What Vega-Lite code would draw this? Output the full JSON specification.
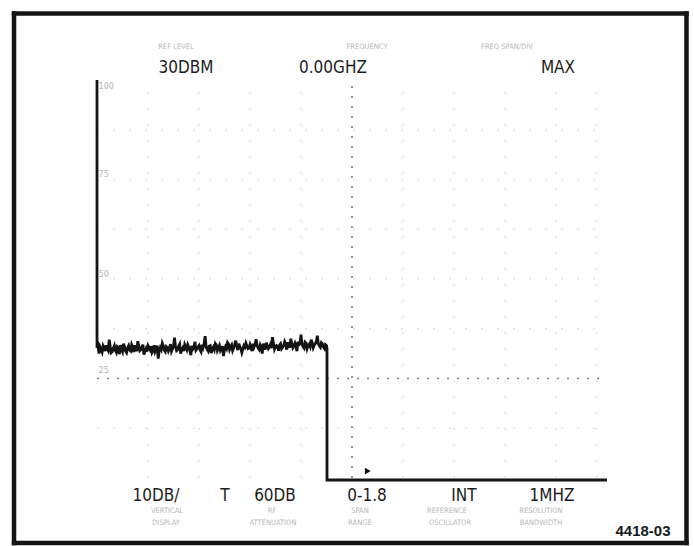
{
  "$schema": "https://vega.github.io/schema/vega-lite/v6.json",
  "width": 694,
  "height": 546,
  "padding": 0,
  "autosize": {"type": "none"},
  "background": "white",
  "config": {"view": {"stroke": null}},
  "datasets": {
    "trace": [
      {"o":-1,"x":0,"y":8.0},
      {"o":0,"x":0,"y":2.62},{"o":0.02,"x":0.02,"y":2.66},
      {"o":0.04,"x":0.04,"y":2.50},{"o":0.06,"x":0.06,"y":2.63},{"o":0.08,"x":0.08,"y":2.58},{"o":0.10,"x":0.10,"y":2.53},
      {"o":0.12,"x":0.12,"y":2.66},{"o":0.14,"x":0.14,"y":2.62},{"o":0.16,"x":0.16,"y":2.55},{"o":0.18,"x":0.18,"y":2.67},
      {"o":0.20,"x":0.20,"y":2.60},{"o":0.22,"x":0.22,"y":2.56},{"o":0.24,"x":0.24,"y":2.78},{"o":0.26,"x":0.26,"y":2.64},
      {"o":0.28,"x":0.28,"y":2.52},{"o":0.30,"x":0.30,"y":2.54},{"o":0.32,"x":0.32,"y":2.61},{"o":0.34,"x":0.34,"y":2.66},
      {"o":0.36,"x":0.36,"y":2.56},{"o":0.38,"x":0.38,"y":2.52},{"o":0.40,"x":0.40,"y":2.64},{"o":0.42,"x":0.42,"y":2.62},
      {"o":0.44,"x":0.44,"y":2.49},{"o":0.46,"x":0.46,"y":2.67},{"o":0.48,"x":0.48,"y":2.59},{"o":0.50,"x":0.50,"y":2.54},
      {"o":0.52,"x":0.52,"y":2.70},{"o":0.54,"x":0.54,"y":2.64},{"o":0.56,"x":0.56,"y":2.55},{"o":0.58,"x":0.58,"y":2.52},
      {"o":0.60,"x":0.60,"y":2.62},{"o":0.62,"x":0.62,"y":2.66},{"o":0.64,"x":0.64,"y":2.57},{"o":0.66,"x":0.66,"y":2.55},
      {"o":0.68,"x":0.68,"y":2.68},{"o":0.70,"x":0.70,"y":2.63},{"o":0.72,"x":0.72,"y":2.53},{"o":0.74,"x":0.74,"y":2.67},
      {"o":0.76,"x":0.76,"y":2.60},{"o":0.78,"x":0.78,"y":2.55},{"o":0.80,"x":0.80,"y":2.75},{"o":0.82,"x":0.82,"y":2.65},
      {"o":0.84,"x":0.84,"y":2.56},{"o":0.86,"x":0.86,"y":2.58},{"o":0.88,"x":0.88,"y":2.63},{"o":0.90,"x":0.90,"y":2.68},
      {"o":0.92,"x":0.92,"y":2.48},{"o":0.94,"x":0.94,"y":2.55},{"o":0.96,"x":0.96,"y":2.60},{"o":0.98,"x":0.98,"y":2.54},
      {"o":1.00,"x":1.00,"y":2.66},{"o":1.02,"x":1.02,"y":2.62},{"o":1.04,"x":1.04,"y":2.58},{"o":1.06,"x":1.06,"y":2.65},
      {"o":1.08,"x":1.08,"y":2.52},{"o":1.10,"x":1.10,"y":2.56},{"o":1.12,"x":1.12,"y":2.67},{"o":1.14,"x":1.14,"y":2.54},
      {"o":1.16,"x":1.16,"y":2.59},{"o":1.18,"x":1.18,"y":2.66},{"o":1.20,"x":1.20,"y":2.40},{"o":1.22,"x":1.22,"y":2.55},
      {"o":1.24,"x":1.24,"y":2.62},{"o":1.26,"x":1.26,"y":2.58},{"o":1.28,"x":1.28,"y":2.71},{"o":1.30,"x":1.30,"y":2.66},
      {"o":1.32,"x":1.32,"y":2.57},{"o":1.34,"x":1.34,"y":2.54},{"o":1.36,"x":1.36,"y":2.64},{"o":1.38,"x":1.38,"y":2.62},
      {"o":1.40,"x":1.40,"y":2.55},{"o":1.42,"x":1.42,"y":2.60},{"o":1.44,"x":1.44,"y":2.69},{"o":1.46,"x":1.46,"y":2.55},
      {"o":1.48,"x":1.48,"y":2.60},{"o":1.50,"x":1.50,"y":2.66},{"o":1.52,"x":1.52,"y":2.82},{"o":1.54,"x":1.54,"y":2.63},
      {"o":1.56,"x":1.56,"y":2.56},{"o":1.58,"x":1.58,"y":2.58},{"o":1.60,"x":1.60,"y":2.65},{"o":1.62,"x":1.62,"y":2.69},
      {"o":1.64,"x":1.64,"y":2.50},{"o":1.66,"x":1.66,"y":2.57},{"o":1.68,"x":1.68,"y":2.61},{"o":1.70,"x":1.70,"y":2.55},
      {"o":1.72,"x":1.72,"y":2.68},{"o":1.74,"x":1.74,"y":2.63},{"o":1.76,"x":1.76,"y":2.58},{"o":1.78,"x":1.78,"y":2.68},
      {"o":1.80,"x":1.80,"y":2.63},{"o":1.82,"x":1.82,"y":2.56},{"o":1.84,"x":1.84,"y":2.47},{"o":1.86,"x":1.86,"y":2.66},
      {"o":1.88,"x":1.88,"y":2.59},{"o":1.90,"x":1.90,"y":2.62},{"o":1.92,"x":1.92,"y":2.74},{"o":1.94,"x":1.94,"y":2.57},
      {"o":1.96,"x":1.96,"y":2.60},{"o":1.98,"x":1.98,"y":2.63},{"o":2.00,"x":2.00,"y":2.66},{"o":2.02,"x":2.02,"y":2.58},
      {"o":2.04,"x":2.04,"y":2.54},{"o":2.06,"x":2.06,"y":2.68},{"o":2.08,"x":2.08,"y":2.62},{"o":2.10,"x":2.10,"y":2.70},
      {"o":2.12,"x":2.12,"y":2.85},{"o":2.14,"x":2.14,"y":2.64},{"o":2.16,"x":2.16,"y":2.58},{"o":2.18,"x":2.18,"y":2.55},
      {"o":2.20,"x":2.20,"y":2.65},{"o":2.22,"x":2.22,"y":2.66},{"o":2.24,"x":2.24,"y":2.51},{"o":2.26,"x":2.26,"y":2.59},
      {"o":2.28,"x":2.28,"y":2.63},{"o":2.30,"x":2.30,"y":2.58},{"o":2.32,"x":2.32,"y":2.70},{"o":2.34,"x":2.34,"y":2.67},
      {"o":2.36,"x":2.36,"y":2.56},{"o":2.38,"x":2.38,"y":2.61},{"o":2.40,"x":2.40,"y":2.66},{"o":2.42,"x":2.42,"y":2.56},
      {"o":2.44,"x":2.44,"y":2.60},{"o":2.46,"x":2.46,"y":2.65},{"o":2.48,"x":2.48,"y":2.45},{"o":2.50,"x":2.50,"y":2.58},
      {"o":2.52,"x":2.52,"y":2.64},{"o":2.54,"x":2.54,"y":2.60},{"o":2.56,"x":2.56,"y":2.72},{"o":2.58,"x":2.58,"y":2.69},
      {"o":2.60,"x":2.60,"y":2.58},{"o":2.62,"x":2.62,"y":2.63},{"o":2.64,"x":2.64,"y":2.67},{"o":2.66,"x":2.66,"y":2.56},
      {"o":2.68,"x":2.68,"y":2.61},{"o":2.70,"x":2.70,"y":2.68},{"o":2.72,"x":2.72,"y":2.76},{"o":2.74,"x":2.74,"y":2.66},
      {"o":2.76,"x":2.76,"y":2.57},{"o":2.78,"x":2.78,"y":2.70},{"o":2.80,"x":2.80,"y":2.64},{"o":2.82,"x":2.82,"y":2.60},
      {"o":2.84,"x":2.84,"y":2.52},{"o":2.86,"x":2.86,"y":2.59},{"o":2.88,"x":2.88,"y":2.66},{"o":2.90,"x":2.90,"y":2.63},
      {"o":2.92,"x":2.92,"y":2.71},{"o":2.94,"x":2.94,"y":2.65},{"o":2.96,"x":2.96,"y":2.60},{"o":2.98,"x":2.98,"y":2.61},
      {"o":3.00,"x":3.00,"y":2.68},{"o":3.02,"x":3.02,"y":2.62},{"o":3.04,"x":3.04,"y":2.55},{"o":3.06,"x":3.06,"y":2.70},
      {"o":3.08,"x":3.08,"y":2.63},{"o":3.10,"x":3.10,"y":2.68},{"o":3.12,"x":3.12,"y":2.79},{"o":3.14,"x":3.14,"y":2.66},
      {"o":3.16,"x":3.16,"y":2.61},{"o":3.18,"x":3.18,"y":2.58},{"o":3.20,"x":3.20,"y":2.67},{"o":3.22,"x":3.22,"y":2.62},
      {"o":3.24,"x":3.24,"y":2.50},{"o":3.26,"x":3.26,"y":2.70},{"o":3.28,"x":3.28,"y":2.64},{"o":3.30,"x":3.30,"y":2.58},
      {"o":3.32,"x":3.32,"y":2.72},{"o":3.34,"x":3.34,"y":2.66},{"o":3.36,"x":3.36,"y":2.60},{"o":3.38,"x":3.38,"y":2.63},
      {"o":3.40,"x":3.40,"y":2.68},{"o":3.42,"x":3.42,"y":2.61},{"o":3.44,"x":3.44,"y":2.83},{"o":3.46,"x":3.46,"y":2.71},
      {"o":3.48,"x":3.48,"y":2.59},{"o":3.50,"x":3.50,"y":2.64},{"o":3.52,"x":3.52,"y":2.66},{"o":3.54,"x":3.54,"y":2.63},
      {"o":3.56,"x":3.56,"y":2.56},{"o":3.58,"x":3.58,"y":2.67},{"o":3.60,"x":3.60,"y":2.70},{"o":3.62,"x":3.62,"y":2.60},
      {"o":3.64,"x":3.64,"y":2.63},{"o":3.66,"x":3.66,"y":2.66},{"o":3.68,"x":3.68,"y":2.74},{"o":3.70,"x":3.70,"y":2.69},
      {"o":3.72,"x":3.72,"y":2.58},{"o":3.74,"x":3.74,"y":2.73},{"o":3.76,"x":3.76,"y":2.67},{"o":3.78,"x":3.78,"y":2.62},
      {"o":3.80,"x":3.80,"y":2.80},{"o":3.82,"x":3.82,"y":2.70},{"o":3.84,"x":3.84,"y":2.62},{"o":3.86,"x":3.86,"y":2.66},
      {"o":3.88,"x":3.88,"y":2.71},{"o":3.90,"x":3.90,"y":2.64},{"o":3.92,"x":3.92,"y":2.55},{"o":3.94,"x":3.94,"y":2.74},
      {"o":3.96,"x":3.96,"y":2.68},{"o":3.98,"x":3.98,"y":2.70},{"o":4.00,"x":4.00,"y":2.88},{"o":4.02,"x":4.02,"y":2.69},
      {"o":4.04,"x":4.04,"y":2.64},{"o":4.06,"x":4.06,"y":2.61},{"o":4.08,"x":4.08,"y":2.73},{"o":4.10,"x":4.10,"y":2.71},
      {"o":4.12,"x":4.12,"y":2.60},{"o":4.14,"x":4.14,"y":2.66},{"o":4.16,"x":4.16,"y":2.69},{"o":4.18,"x":4.18,"y":2.64},
      {"o":4.20,"x":4.20,"y":2.78},{"o":4.22,"x":4.22,"y":2.72},{"o":4.24,"x":4.24,"y":2.62},{"o":4.26,"x":4.26,"y":2.67},
      {"o":4.28,"x":4.28,"y":2.70},{"o":4.30,"x":4.30,"y":2.74},{"o":4.32,"x":4.32,"y":2.86},{"o":4.34,"x":4.34,"y":2.70},
      {"o":4.36,"x":4.36,"y":2.66},{"o":4.38,"x":4.38,"y":2.63},{"o":4.40,"x":4.40,"y":2.72},{"o":4.42,"x":4.42,"y":2.70},
      {"o":4.44,"x":4.44,"y":2.63},{"o":4.46,"x":4.46,"y":2.60},{"o":4.48,"x":4.48,"y":2.68},{"o":4.50,"x":4.50,"y":2.66},
      {"o":4.51,"x":4.51,"y":2.60},
      {"o":4.52,"x":4.51,"y":-0.04},
      {"o":10,"x":10.0,"y":-0.04}
    ],
    "frame": [
      {"x":-1.627,"y":9.337,"x2":11.559,"y2":9.337},
      {"x":-1.627,"y":-1.307,"x2":11.559,"y2":-1.307},
      {"x":-1.627,"y":9.337,"x2":-1.627,"y2":-1.307},
      {"x":11.559,"y":9.337,"x2":11.559,"y2":-1.307}
    ],
    "grid": [
      {"x":1,"y":0,"x2":1,"y2":8},{"x":2,"y":0,"x2":2,"y2":8},{"x":3,"y":0,"x2":3,"y2":8},
      {"x":4,"y":0,"x2":4,"y2":8},{"x":6,"y":0,"x2":6,"y2":8},{"x":7,"y":0,"x2":7,"y2":8},
      {"x":8,"y":0,"x2":8,"y2":8},{"x":9,"y":0,"x2":9,"y2":8},{"x":9.8,"y":0,"x2":9.8,"y2":8},
      {"x":0,"y":1,"x2":10,"y2":1},{"x":0,"y":3,"x2":10,"y2":3},{"x":0,"y":4,"x2":10,"y2":4},
      {"x":0,"y":5,"x2":10,"y2":5},{"x":0,"y":6,"x2":10,"y2":6},{"x":0,"y":7,"x2":10,"y2":7}
    ],
    "center": [
      {"x":5,"y":0,"x2":5,"y2":8},
      {"x":0,"y":2,"x2":10,"y2":2}
    ],
    "main": [
      {"t":"30DBM","x":1.745,"y":8.241},
      {"t":"0.00GHZ","x":4.627,"y":8.241},
      {"t":"MAX","x":9.039,"y":8.241},
      {"t":"10DB/","x":1.157,"y":-0.362},
      {"t":"T","x":2.51,"y":-0.362},
      {"t":"60DB","x":3.49,"y":-0.362},
      {"t":"0-1.8","x":5.294,"y":-0.362},
      {"t":"INT","x":7.196,"y":-0.362},
      {"t":"1MHZ","x":8.922,"y":-0.362}
    ],
    "small": [
      {"t":"REF LEVEL","x":1.549,"y":8.663},
      {"t":"FREQUENCY","x":5.294,"y":8.663},
      {"t":"FREQ SPAN/DIV","x":8.039,"y":8.663},
      {"t":"VERTICAL","x":1.373,"y":-0.663},
      {"t":"DISPLAY","x":1.353,"y":-0.905},
      {"t":"RF","x":3.431,"y":-0.663},
      {"t":"ATTENUATION","x":3.451,"y":-0.905},
      {"t":"SPAN","x":5.157,"y":-0.663},
      {"t":"RANGE","x":5.157,"y":-0.905},
      {"t":"REFERENCE","x":6.863,"y":-0.663},
      {"t":"OSCILLATOR","x":6.922,"y":-0.905},
      {"t":"RESOLUTION","x":8.706,"y":-0.663},
      {"t":"BANDWIDTH","x":8.706,"y":-0.905}
    ],
    "left": [
      {"t":"100","x":0.03,"y":7.879},
      {"t":"75","x":0.03,"y":6.111},
      {"t":"50","x":0.03,"y":4.10},
      {"t":"25","x":0.03,"y":2.171}
    ],
    "id": [
      {"t":"4418-03","x":10.706,"y":-1.065}
    ],
    "marker": [
      {"x":5.31,"y":0.14}
    ]
  },
  "layer": [
    {
      "data": {"name": "grid"},
      "mark": {"type": "rule", "color": "#e3e3e3", "strokeWidth": 1.4, "strokeDash": [2, 14]},
      "encoding": {
        "x": {"field": "x", "type": "quantitative", "scale": {"domain": [-1.902, 11.706], "nice": false, "zero": false}, "axis": null},
        "y": {"field": "y", "type": "quantitative", "scale": {"domain": [-1.367, 9.608], "nice": false, "zero": false}, "axis": null},
        "x2": {"field": "x2"},
        "y2": {"field": "y2"}
      }
    },
    {
      "data": {"name": "center"},
      "mark": {"type": "rule", "color": "#808080", "strokeWidth": 1.6, "strokeDash": [2, 8]},
      "encoding": {
        "x": {"field": "x", "type": "quantitative"},
        "y": {"field": "y", "type": "quantitative"},
        "x2": {"field": "x2"},
        "y2": {"field": "y2"}
      }
    },
    {
      "data": {"name": "frame"},
      "mark": {"type": "rule", "color": "#151515", "strokeWidth": 4.5, "strokeCap": "square"},
      "encoding": {
        "x": {"field": "x", "type": "quantitative"},
        "y": {"field": "y", "type": "quantitative"},
        "x2": {"field": "x2"},
        "y2": {"field": "y2"}
      }
    },
    {
      "data": {"name": "trace"},
      "mark": {"type": "line", "color": "#141414", "strokeWidth": 2.8, "strokeJoin": "miter"},
      "encoding": {
        "x": {"field": "x", "type": "quantitative"},
        "y": {"field": "y", "type": "quantitative"},
        "order": {"field": "o", "type": "quantitative"}
      }
    },
    {
      "data": {"name": "marker"},
      "mark": {"type": "point", "shape": "triangle-right", "filled": true, "color": "#111", "size": 45, "opacity": 1},
      "encoding": {
        "x": {"field": "x", "type": "quantitative"},
        "y": {"field": "y", "type": "quantitative"}
      }
    },
    {
      "data": {"name": "main"},
      "mark": {"type": "text", "font": "DejaVu Sans Condensed, Roboto, sans-serif", "fontSize": 17, "color": "#1c1c1c", "align": "center", "baseline": "middle"},
      "encoding": {
        "x": {"field": "x", "type": "quantitative"},
        "y": {"field": "y", "type": "quantitative"},
        "text": {"field": "t"}
      }
    },
    {
      "data": {"name": "small"},
      "mark": {"type": "text", "font": "DejaVu Sans Condensed, Roboto, sans-serif", "fontSize": 7.5, "color": "#b8b8b8", "align": "center", "baseline": "middle"},
      "encoding": {
        "x": {"field": "x", "type": "quantitative"},
        "y": {"field": "y", "type": "quantitative"},
        "text": {"field": "t"}
      }
    },
    {
      "data": {"name": "left"},
      "mark": {"type": "text", "font": "DejaVu Sans Condensed, Roboto, sans-serif", "fontSize": 9, "color": "#b5b5b5", "align": "left", "baseline": "middle"},
      "encoding": {
        "x": {"field": "x", "type": "quantitative"},
        "y": {"field": "y", "type": "quantitative"},
        "text": {"field": "t"}
      }
    },
    {
      "data": {"name": "id"},
      "mark": {"type": "text", "font": "Liberation Sans, Arial, sans-serif", "fontSize": 15, "fontWeight": "bold", "color": "#1a1a1a", "align": "center", "baseline": "middle"},
      "encoding": {
        "x": {"field": "x", "type": "quantitative"},
        "y": {"field": "y", "type": "quantitative"},
        "text": {"field": "t"}
      }
    }
  ]
}
